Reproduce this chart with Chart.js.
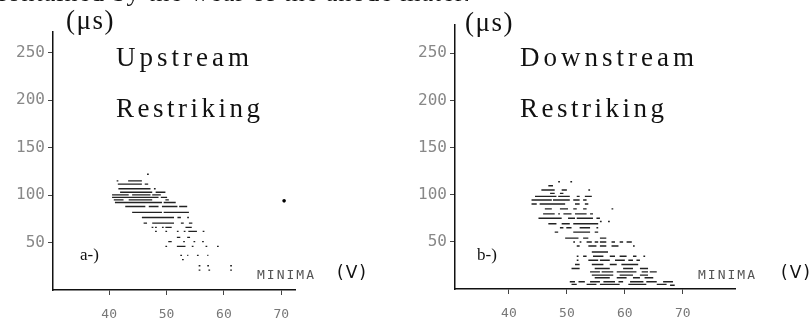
<!DOCTYPE html>
<html>
<head>
<meta charset="utf-8">
<script src="https://cdn.jsdelivr.net/npm/chart.js@4.4.1/dist/chart.umd.min.js"></script>
<style>
  body { margin: 0; background: #fff; }
  #wrap { position: relative; width: 810px; height: 327px; overflow: hidden; }
  canvas { position: absolute; top: 0; }
  .lbl { position: absolute; white-space: nowrap; line-height: 1; color: #111; }
  .serif { font-family: 'Liberation Serif', serif; }
  .mono { font-family: 'DejaVu Sans Mono', monospace; color: #555; font-size: 13px; letter-spacing: 2px; }
  .unit { font-family: 'DejaVu Sans', sans-serif; font-size: 17px; letter-spacing: 2px; }
  #topline { position: absolute; left: 0; top: 0; width: 468px; height: 14px; overflow: hidden; }
</style>
</head>
<body>
<div id="wrap">
  <canvas id="upChart" width="405" height="327" style="left:0"></canvas>
  <canvas id="downChart" width="405" height="327" style="left:405px"></canvas>

  <div id="topline">
    <div class="lbl serif" style="left:-5px; top:-20px; font-size:26px; letter-spacing:1px;">contained by the wear of the anode material</div>
  </div>

  <!-- panel a -->
  <div class="lbl serif" style="left:66px; top:7px; font-size:27px; letter-spacing:1.5px;">(μs)</div>
  <div class="lbl serif" style="left:116px; top:44px; font-size:27px; letter-spacing:4px;">Upstream</div>
  <div class="lbl serif" style="left:116px; top:95px; font-size:27px; letter-spacing:3.5px;">Restriking</div>
  <div class="lbl serif" style="left:80px; top:246px; font-size:17px;">a-)</div>
  <div class="lbl mono" style="left:257px; top:268px;">MINIMA</div>
  <div class="lbl unit" style="left:337px; top:264px;">(V)</div>

  <!-- panel b -->
  <div class="lbl serif" style="left:465px; top:9px; font-size:27px; letter-spacing:1.5px;">(μs)</div>
  <div class="lbl serif" style="left:520px; top:44px; font-size:27px; letter-spacing:4px;">Downstream</div>
  <div class="lbl serif" style="left:520px; top:95px; font-size:27px; letter-spacing:3.5px;">Restriking</div>
  <div class="lbl serif" style="left:477px; top:246px; font-size:17px;">b-)</div>
  <div class="lbl mono" style="left:698px; top:268px;">MINIMA</div>
  <div class="lbl unit" style="left:781px; top:264px;">(V)</div>
</div>

<script>
// ticks
const yTicks = [50, 100, 150, 200, 250];
const xTicks = [40, 50, 60, 70];

// dashes: [time (µs), minima start (V), minima end (V)]
const upstreamDashes = [
    [122, 46.6, 46.9],
    [115, 41.3, 41.6], [115, 43.3, 45.7],
    [111.6, 41.5, 45.7], [111.6, 46.2, 46.8],
    [106.7, 41.6, 47.2], [106.7, 47.8, 48.1],
    [103, 41.9, 47.5], [103, 48.1, 49.8],
    [100.3, 40.5, 43.4], [100.3, 44, 47.2], [100.3, 47.5, 49],
    [97.6, 40.5, 48.6], [97.6, 49, 50.1],
    [95, 40.8, 42.5], [95, 43.4, 47.5], [95, 49.8, 50.4],
    [92.3, 41, 49.2], [92.3, 49.5, 51.6],
    [88, 42.8, 46.3], [88, 46.9, 48.6], [88, 49.2, 51.9], [88, 52.2, 53.6],
    [81.8, 44, 49.2], [81.8, 49.5, 53.9],
    [76.5, 45.7, 51.3], [76.5, 51.9, 52.5], [76.5, 53.6, 53.9],
    [70.5, 46, 46.6], [70.5, 47.5, 51.3], [70.5, 52.5, 53], [70.5, 53.9, 54.5],
    [66, 47.4, 47.7], [66, 48, 48.3], [66, 49.2, 49.5], [66, 49.8, 50.9], [66, 53.3, 54.4],
    [61.8, 48, 48.3], [61.8, 49.8, 50.1], [61.8, 51.8, 52.1], [61.8, 53, 53.3], [61.8, 53.8, 55.3], [61.8, 56.3, 56.6],
    [55.5, 51.8, 52.4], [55.5, 53.6, 54.1],
    [51, 50.3, 50.9], [51, 52.9, 53.2], [51, 54.7, 55], [51, 56.2, 56.5],
    [46, 49.8, 50.1], [46, 51.8, 53.3], [46, 54.4, 54.7], [46, 56.8, 57.1], [46, 58.8, 59.1],
    [36.5, 52.4, 52.7], [36.5, 53.6, 53.8], [36.5, 55.3, 55.6], [36.5, 57.1, 57.3],
    [32, 52.7, 53],
    [25.6, 55.6, 55.9], [25.6, 57.1, 57.4], [25.6, 61.1, 61.4],
    [21, 55.6, 55.9], [21, 57.3, 57.6], [21, 61.1, 61.4]
];
const upstreamLone = [{ x: 70.5, y: 94 }];

const downstreamDashes = [
    [113.7, 48.5, 48.8], [113.7, 50.6, 50.9],
    [109.5, 46.8, 47.6],
    [105, 45.6, 47.9], [105, 49.1, 50], [105, 53.7, 54],
    [101.4, 47.1, 47.9], [101.4, 48.8, 49.4],
    [98.2, 44.5, 48.2], [98.2, 48.5, 50.5], [98.2, 51.7, 52.2], [98.2, 53.1, 54.3],
    [94.4, 43.9, 47.4], [94.4, 47.6, 50.5], [94.4, 51.1, 52.2], [94.4, 52.8, 53.4],
    [90.2, 43.9, 44.8], [90.2, 45.3, 49.7], [90.2, 51.4, 52.2], [90.2, 53.1, 53.7],
    [85, 46.2, 47.4], [85, 48.8, 50.2], [85, 51.1, 51.7], [85, 52.8, 53.4], [85, 57.7, 58],
    [79.7, 45.9, 47.9], [79.7, 48.5, 48.8], [79.7, 49.4, 50.8], [79.7, 51.4, 53.4], [79.7, 54, 54.5],
    [75, 45.1, 49.1], [75, 50.2, 51.4], [75, 51.7, 54.5], [75, 55.1, 55.7],
    [71.6, 55.7, 56], [71.6, 57.1, 57.4],
    [69.2, 46.8, 48.2], [69.2, 49.1, 50.5], [69.2, 51.1, 55.4],
    [65, 48.8, 49.4], [65, 49.9, 50.8], [65, 52.2, 54], [65, 55.1, 55.4],
    [60.3, 47.9, 48.5], [60.3, 51.1, 54], [60.3, 54.8, 55.4],
    [54, 49.7, 52], [54, 52.8, 53.7], [54, 55.7, 56.8],
    [49.8, 51.1, 51.4], [49.8, 52.2, 52.5], [49.8, 53.4, 54.3], [49.8, 54.8, 55.4],
    [49.8, 55.7, 56.8], [49.8, 57.7, 58.3], [49.8, 59.1, 59.7], [49.8, 60.3, 61.2],
    [45.6, 51.7, 52.2], [45.6, 53.7, 55.1], [45.6, 55.7, 56.8], [45.6, 57.7, 58.9], [45.6, 61.4, 61.7],
    [39.3, 54.3, 57.1],
    [34.7, 51.7, 52], [34.7, 52.8, 53.4], [34.7, 54.5, 56.3], [34.7, 57.4, 58.3],
    [34.7, 59.1, 60.3], [34.7, 61.4, 62], [34.7, 63.2, 63.5],
    [30.5, 51.7, 52], [30.5, 53.7, 55.4], [30.5, 55.7, 57.4], [30.5, 58.3, 60], [30.5, 60.6, 61.4], [30.5, 62, 62.6],
    [26, 51.4, 52.2], [26, 54.3, 56.3], [26, 57.4, 58.6], [26, 59.4, 62.3],
    [21.8, 50.8, 52.2], [21.8, 54.8, 57.4], [21.8, 59.7, 61.4], [21.8, 62.6, 64],
    [18.2, 54, 55.7], [18.2, 56, 58], [18.2, 58.6, 62], [18.2, 62.9, 64], [18.2, 64.3, 65.5],
    [14.7, 54.3, 58], [14.7, 59.1, 61.4], [14.7, 62.6, 64],
    [11.9, 54.8, 57.4], [11.9, 58.6, 60.3], [11.9, 61.4, 62.6], [11.9, 63.4, 64.9],
    [7.7, 50.5, 51.4], [7.7, 52, 53.1], [7.7, 54, 55.7], [7.7, 56.3, 58.3],
    [7.7, 58.9, 59.7], [7.7, 60.9, 63.2], [7.7, 63.7, 65.5], [7.7, 66.6, 68.3],
    [4.9, 50.8, 51.7], [4.9, 53.4, 55.1], [4.9, 55.7, 59.1], [4.9, 60.6, 63.7], [4.9, 65.5, 67.2],
    [4, 67.8, 68.6]
];

// turn the dashes into one broken line (null points split it)
function toSegments(dashes) {
    const pts = [];
    dashes.forEach(([y, x1, x2]) => {
        pts.push({ x: x1, y: y }, { x: x2, y: y }, { x: null, y: null });
    });
    return pts;
}

function makeChart(id, dashes, lone, box) {
    const datasets = [{
        data: toSegments(dashes),
        borderColor: '#222',
        borderWidth: 1.4,
        pointRadius: 0,
        spanGaps: false,
        tension: 0
    }];
    if (lone) {
        datasets.push({
            data: lone,
            showLine: false,
            pointRadius: 1.8,
            pointBackgroundColor: '#000',
            pointBorderWidth: 0
        });
    }

    const ctx = document.getElementById(id).getContext('2d');
    return new Chart(ctx, {
        type: 'line',
        data: { datasets: datasets },
        options: {
            responsive: false,
            animation: false,
            devicePixelRatio: 1,
            layout: { padding: { top: box.top, right: box.right, left: 0, bottom: 0 } },
            plugins: { legend: { display: false }, tooltip: { enabled: false } },
            scales: {
                x: {
                    type: 'linear',
                    min: box.xMin,
                    max: box.xMax,
                    afterBuildTicks: s => { s.ticks = xTicks.map(v => ({ value: v })); },
                    afterFit: s => { s.height = box.xHeight; },
                    grid: { drawOnChartArea: false, drawTicks: true, tickLength: 5, color: '#444', lineWidth: 1 },
                    border: { display: true, color: '#111', width: 1.5 },
                    ticks: {
                        color: '#777',
                        padding: 12,
                        maxRotation: 0,
                        font: { family: 'DejaVu Sans Mono', size: 13 }
                    }
                },
                y: {
                    type: 'linear',
                    min: 0,
                    max: box.yMax,
                    afterBuildTicks: s => { s.ticks = yTicks.map(v => ({ value: v })); },
                    afterFit: s => { s.width = box.yWidth; },
                    grid: { drawOnChartArea: false, drawTicks: true, tickLength: 5, color: '#444', lineWidth: 1 },
                    border: { display: true, color: '#111', width: 1.5 },
                    ticks: {
                        color: '#888',
                        padding: 3,
                        font: { family: 'DejaVu Sans Mono', size: 16 }
                    }
                }
            }
        }
    });
}

document.addEventListener('DOMContentLoaded', () => {
    // a-) upstream restriking
    makeChart('upChart', upstreamDashes, upstreamLone,
        { top: 32, right: 110, yWidth: 53, xHeight: 37, xMin: 30.2, xMax: 72.4, yMax: 272 });
    // b-) downstream restriking
    makeChart('downChart', downstreamDashes, null,
        { top: 25, right: 75, yWidth: 50, xHeight: 38, xMin: 30.7, xMax: 79, yMax: 280 });
});
</script>
</body>
</html>
